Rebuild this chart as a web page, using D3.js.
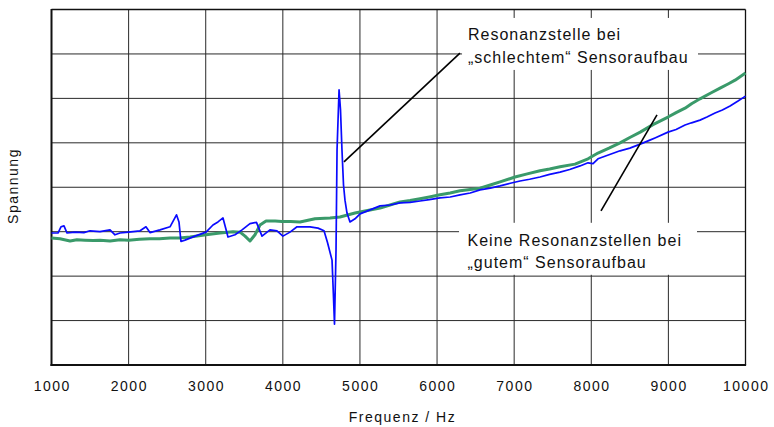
<!DOCTYPE html>
<html>
<head>
<meta charset="utf-8">
<script src="https://cdn.jsdelivr.net/npm/d3@7"></script>
<style>
  html, body { margin: 0; padding: 0; background: #fff; }
  svg { display: block; font-family: "Liberation Sans", Arial, sans-serif; }
</style>
</head>
<body>
<svg id="chart" width="774" height="427"></svg>
<script>
// ---- data ----
const xTicks = [1000, 2000, 3000, 4000, 5000, 6000, 7000, 8000, 9000, 10000];
const yGrid = [0, 1, 2, 3, 4, 5, 6, 7, 8];
const xTitle = "Frequenz / Hz";
const yTitle = "Spannung";

// blue: "schlechter" Sensoraufbau (frequency Hz, voltage arbitrary units)
const blueFreq = [1000,1084,1123,1162,1201,1305,1420,1499,1629,1759,1823,1888,2000,2148,2225,2277,2407,2537,2621,2653,2679,2731,2861,3004,3094,3159,3224,3289,3380,3471,3574,3658,3730,3833,3924,4001,4093,4184,4352,4456,4534,4580,4638,4655,4670,4690,4703,4729,4748,4767,4787,4806,4832,4871,4936,5001,5131,5261,5390,5520,5650,5779,5900,6038,6170,6298,6430,6557,6690,6817,6950,7076,7200,7335,7460,7595,7720,7854,7958,8023,8087,8230,8373,8500,8635,8760,8826,8995,9100,9216,9300,9410,9500,9605,9700,9800,9903,10000];
const blueVal  = [2.97,2.97,3.11,3.13,2.97,2.99,2.98,3.02,3.00,3.04,2.93,2.97,2.99,3.02,3.11,2.98,3.04,3.11,3.38,3.22,2.78,2.81,2.90,2.99,3.15,3.22,3.31,2.88,2.93,3.04,3.18,3.21,2.90,3.04,3.02,2.90,2.99,3.11,3.11,3.08,3.02,2.75,2.36,1.62,0.92,2.60,4.84,6.19,5.74,4.84,4.05,3.71,3.42,3.22,3.29,3.40,3.49,3.58,3.60,3.65,3.66,3.69,3.72,3.76,3.78,3.83,3.87,3.94,3.98,4.03,4.09,4.14,4.18,4.23,4.29,4.34,4.40,4.48,4.55,4.53,4.64,4.73,4.82,4.88,4.97,5.06,5.11,5.24,5.30,5.40,5.45,5.51,5.58,5.67,5.74,5.83,5.94,6.05];

// green: "guter" Sensoraufbau
const greenFreq = [1000,1110,1240,1330,1434,1540,1629,1759,1888,2000,2140,2277,2400,2537,2660,2796,3004,3185,3354,3445,3510,3574,3639,3704,3782,3900,3989,4100,4223,4417,4612,4741,4936,5131,5261,5390,5520,5650,5779,5900,6038,6170,6298,6430,6557,6690,6817,7011,7170,7335,7460,7595,7789,7958,8087,8230,8373,8500,8635,8800,8995,9100,9216,9300,9410,9550,9670,9780,9865,10000];
const greenVal  = [2.86,2.84,2.79,2.82,2.81,2.80,2.81,2.79,2.82,2.81,2.83,2.84,2.84,2.86,2.86,2.88,2.93,2.97,3.00,2.99,2.90,2.79,2.93,3.15,3.24,3.24,3.23,3.23,3.22,3.29,3.31,3.33,3.42,3.49,3.53,3.60,3.67,3.70,3.74,3.78,3.83,3.87,3.92,3.95,3.98,4.05,4.12,4.23,4.30,4.37,4.41,4.46,4.52,4.64,4.77,4.88,5.00,5.12,5.24,5.41,5.58,5.68,5.78,5.88,5.99,6.12,6.23,6.33,6.41,6.57];

// annotations
const annoText1 = ["Resonanzstelle bei", "\u201Eschlechtem\u201C Sensoraufbau"];
const annoText2 = ["Keine Resonanzstellen bei", "\u201Egutem\u201C Sensoraufbau"];

// ---- layout ----
const svg = d3.select("#chart");
const pL = 51.5, pR = 745.5, pT = 9.5, pB = 365;
const x = d3.scaleLinear().domain([1000, 10000]).range([pL, pR]);
const y = d3.scaleLinear().domain([0, 8]).range([pB, pT]);

// gridlines
const grid = svg.append("g").attr("stroke", "#2a2a2a").attr("stroke-width", 1);
grid.selectAll(".vg").data(xTicks.slice(1, -1)).enter().append("line")
  .attr("x1", d => x(d)).attr("x2", d => x(d)).attr("y1", pT).attr("y2", pB);
grid.selectAll(".hg").data(yGrid.slice(1, -1)).enter().append("line")
  .attr("y1", d => y(d)).attr("y2", d => y(d)).attr("x1", pL).attr("x2", pR);

// white label boxes (cover gridlines)
svg.append("rect").attr("x", x(6324)).attr("y", y(7.81))
  .attr("width", x(9384) - x(6324)).attr("height", y(6.64) - y(7.81)).attr("fill", "#fff");
svg.append("rect").attr("x", x(6285)).attr("y", y(3.20))
  .attr("width", x(9371) - x(6285)).attr("height", y(2.03) - y(3.20)).attr("fill", "#fff");

// frame
svg.append("line").attr("x1", pL).attr("x2", pR).attr("y1", pT).attr("y2", pT)
  .attr("stroke", "#111").attr("stroke-width", 1.3);
svg.append("line").attr("x1", pR).attr("x2", pR).attr("y1", pT).attr("y2", pB)
  .attr("stroke", "#111").attr("stroke-width", 1.3);
svg.append("line").attr("x1", pL).attr("x2", pL).attr("y1", pT - 0.6).attr("y2", pB + 1)
  .attr("stroke", "#111").attr("stroke-width", 2);
svg.append("line").attr("x1", pL - 1).attr("x2", pR + 0.6).attr("y1", pB).attr("y2", pB)
  .attr("stroke", "#111").attr("stroke-width", 2);

// curves
const line = d3.line().x(d => x(d[0])).y(d => y(d[1]));
svg.append("path").datum(greenFreq.map((f, i) => [f, greenVal[i]]))
  .attr("d", line).attr("fill", "none").attr("stroke", "#3a9a6a")
  .attr("stroke-width", 3).attr("stroke-linejoin", "round");
svg.append("path").datum(blueFreq.map((f, i) => [f, blueVal[i]]))
  .attr("d", line).attr("fill", "none").attr("stroke", "#0a0aff")
  .attr("stroke-width", 1.7).attr("stroke-linejoin", "round");

// leader lines
svg.append("line").attr("x1", x(4793)).attr("y1", y(4.57)).attr("x2", x(6297)).attr("y2", y(7.02))
  .attr("stroke", "#000").attr("stroke-width", 1.6);
svg.append("line").attr("x1", x(8126)).attr("y1", y(3.47)).attr("x2", x(8852)).attr("y2", y(5.63))
  .attr("stroke", "#000").attr("stroke-width", 1.6);

// annotation text
const t1 = svg.append("text").attr("font-size", 16).attr("letter-spacing", 1).attr("fill", "#111");
annoText1.forEach((s, i) => t1.append("tspan").attr("x", x(6401)).attr("y", i === 0 ? 40 : 63).text(s));
const t2 = svg.append("text").attr("font-size", 16).attr("letter-spacing", 1).attr("fill", "#111");
annoText2.forEach((s, i) => t2.append("tspan").attr("x", x(6395)).attr("y", i === 0 ? 246 : 268).text(s));

// x tick labels
svg.append("g").selectAll("text").data(xTicks).enter().append("text")
  .attr("x", d => x(d) + 0.75).attr("y", 391)
  .attr("text-anchor", "middle").attr("font-size", 14).attr("letter-spacing", 1.5)
  .attr("fill", "#111").text(d => d);

// axis titles
svg.append("text").attr("x", (pL + pR) / 2 + 4).attr("y", 422)
  .attr("text-anchor", "middle").attr("font-size", 14).attr("letter-spacing", 1.5)
  .attr("fill", "#111").text(xTitle);
svg.append("text").attr("transform", "translate(17.5,186) rotate(-90)")
  .attr("text-anchor", "middle").attr("font-size", 14).attr("letter-spacing", 1.5)
  .attr("fill", "#111").text(yTitle);
</script>
</body>
</html>
